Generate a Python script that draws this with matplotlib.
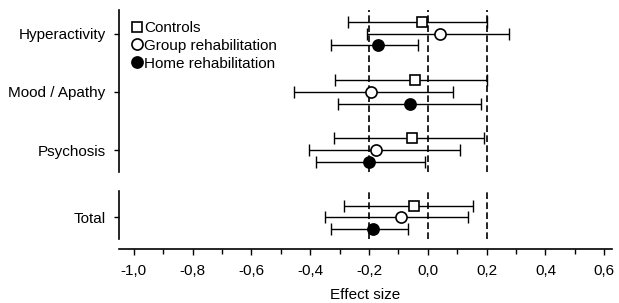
import matplotlib
matplotlib.use("Agg")
import matplotlib.pyplot as plt
import numpy as np

plt.rcParams["font.family"] = ["Liberation Sans", "DejaVu Sans"]
plt.rcParams["font.size"] = 11

# Dane (effect size, dolna i górna granica przedziału)
kategorie_gora = ["Hyperactivity", "Mood / Apathy", "Psychosis"]
kategorie_dol = ["Total"]
grupy = ["Controls", "Group rehabilitation", "Home rehabilitation"]

controls = [-0.02, -0.045, -0.055, -0.047]
controls_lo = [-0.27, -0.315, -0.32, -0.285]
controls_hi = [0.20, 0.20, 0.192, 0.152]

group_reh = [0.04, -0.195, -0.178, -0.093]
group_lo = [-0.207, -0.455, -0.403, -0.35]
group_hi = [0.275, 0.086, 0.11, 0.137]

home_reh = [-0.17, -0.06, -0.20, -0.185]
home_lo = [-0.328, -0.306, -0.38, -0.33]
home_hi = [-0.033, 0.18, -0.01, -0.066]

linie_ref = [-0.2, 0.0, 0.2]
xticki = [-1.0, -0.8, -0.6, -0.4, -0.2, 0.0, 0.2, 0.4, 0.6]

style = [
    dict(marker="s", mfc="white", ms=7, label=grupy[0]),
    dict(marker="o", mfc="white", ms=8, label=grupy[1]),
    dict(marker="o", mfc="black", ms=8, label=grupy[2]),
]
serie = [
    (controls, controls_lo, controls_hi),
    (group_reh, group_lo, group_hi),
    (home_reh, home_lo, home_hi),
]
przesuniecia = [-0.2, 0.0, 0.2]

fig = plt.figure(figsize=(6.19, 3.03), dpi=100)
ax1 = fig.add_axes([0.192, 0.432, 0.797, 0.535])
ax2 = fig.add_axes([0.192, 0.211, 0.797, 0.158], sharex=ax1)


def rysuj(ax, idx, n):
    y = np.arange(n)
    for (wart, lo, hi), dy, st in zip(serie, przesuniecia, style):
        w = np.array(wart)[idx]
        l = np.array(lo)[idx]
        h = np.array(hi)[idx]
        ax.errorbar(w, y + dy, xerr=[w - l, h - w], fmt="none", ecolor="black",
                    elinewidth=1.0, capsize=4, capthick=1.0, zorder=2)
        ax.plot(w, y + dy, linestyle="none", color="black", mec="black",
                mew=1.2, zorder=3, **st)
    for x in linie_ref:
        ax.axvline(x, color="black", lw=1.2, ls=(0, (4, 2)), zorder=1)
    for s in ["top", "right"]:
        ax.spines[s].set_visible(False)
    ax.spines["left"].set_linewidth(1.2)
    ax.tick_params(axis="y", length=3.5, width=1.0, pad=6)


rysuj(ax1, [0, 1, 2], 3)
ax1.set_yticks(range(3))
ax1.set_yticklabels(kategorie_gora)
ax1.set_ylim(2.38, -0.41)
ax1.spines["bottom"].set_visible(False)
ax1.tick_params(axis="x", which="both", bottom=False, labelbottom=False)

rysuj(ax2, [3], 1)
ax2.set_yticks([0])
ax2.set_yticklabels(kategorie_dol)
ax2.set_ylim(0.38, -0.45)
ax2.spines["bottom"].set_position(("outward", 7))
ax2.spines["bottom"].set_linewidth(1.2)
ax2.set_xlim(-1.051, 0.627)
ax2.set_xticks(xticki)
ax2.set_xticks(np.array(xticki[:-1]) + 0.1, minor=True)
ax2.set_xticklabels([f"{t:.1f}".replace(".", ",") for t in xticki])
ax2.tick_params(axis="x", which="major", length=4, width=1.0, pad=7)
ax2.tick_params(axis="x", which="minor", length=3.5, width=1.0)
ax2.set_xlabel("Effect size", labelpad=7)

ax1.legend(loc="upper left", frameon=False, handletextpad=0.0, handlelength=1.0,
           borderaxespad=0.0, labelspacing=0.25, bbox_to_anchor=(0.008, 0.97),
           markerscale=1.0)

fig.savefig("out.png", dpi=100)
